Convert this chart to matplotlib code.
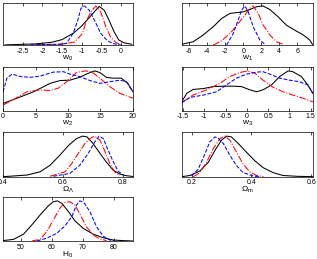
import numpy as np
import matplotlib
matplotlib.use('Agg')
import matplotlib.pyplot as plt

plt.rcParams['font.family'] = ['Liberation Sans', 'DejaVu Sans']
plt.rcParams['mathtext.fontset'] = 'custom'
plt.rcParams['mathtext.rm'] = 'Liberation Sans'
plt.rcParams['mathtext.it'] = 'Liberation Sans'

# marginalised posteriors (normalised to peak = 1)
# each panel: (x, y) for black solid, red dash-dot, blue dashed

w0_k_x = [-2.95, -2.18, -1.77, -1.5, -1.22, -1.02, -0.83, -0.68, -0.56, -0.43, -0.31, -0.18, -0.06, 0.07, 0.27]
w0_k_y = [0.005, 0.03, 0.07, 0.14, 0.3, 0.47, 0.68, 0.85, 0.99, 0.89, 0.64, 0.34, 0.13, 0.06, 0.02]
w0_r_x = [-2.18, -1.52, -1.18, -0.98, -0.89, -0.77, -0.64, -0.52, -0.39, -0.27, -0.14, -0.02]
w0_r_y = [0.01, 0.02, 0.08, 0.3, 0.6, 0.85, 1.0, 0.85, 0.47, 0.21, 0.07, 0.01]
w0_b_x = [-2.3, -1.6, -1.39, -1.22, -1.1, -1.02, -0.93, -0.81, -0.68, -0.52, -0.35, -0.18, 0.0]
w0_b_y = [0.01, 0.02, 0.04, 0.3, 0.64, 0.94, 1.0, 0.89, 0.64, 0.3, 0.11, 0.03, 0.0]

w1_k_x = [-6.85, -5.56, -4.44, -3.33, -2.4, -1.48, -0.74, 0.0, 0.74, 1.48, 2.2, 2.96, 3.9, 4.8, 5.74, 6.67, 7.4, 7.7]
w1_k_y = [0.02, 0.085, 0.26, 0.47, 0.68, 0.81, 0.83, 0.85, 0.91, 0.98, 1.0, 0.91, 0.72, 0.51, 0.38, 0.26, 0.13, 0.02]
w1_r_x = [-3.33, -2.4, -1.3, -0.56, 0.19, 0.74, 1.11, 1.67, 2.22, 2.96, 3.7, 4.44]
w1_r_y = [0.0, 0.11, 0.34, 0.55, 0.77, 0.94, 1.0, 0.81, 0.51, 0.26, 0.085, 0.02]
w1_b_x = [-1.85, -1.1, -0.56, -0.19, 0.19, 0.56, 1.11, 1.85, 2.4]
w1_b_y = [0.0, 0.3, 0.64, 0.89, 1.0, 0.85, 0.47, 0.13, 0.02]

w2_k_x = [0, 2.14, 4.7, 7.24, 8.78, 10.3, 11.8, 13.1, 14.1, 14.9, 15.9, 16.9, 18.2, 19.2, 20]
w2_k_y = [0.18, 0.31, 0.47, 0.68, 0.75, 0.76, 0.83, 0.93, 0.99, 0.95, 0.83, 0.81, 0.81, 0.68, 0.47]
w2_r_x = [0, 1.63, 3.67, 5.7, 7.24, 8.5, 9.8, 11.3, 12.6, 13.6, 14.9, 16.4, 18, 20]
w2_r_y = [0.14, 0.28, 0.47, 0.52, 0.5, 0.56, 0.72, 0.95, 0.99, 0.97, 0.81, 0.6, 0.43, 0.31]
w2_b_x = [0, 0.6, 1.4, 2.65, 4.2, 5.7, 7.75, 9.3, 10.3, 11.8, 13.4, 14.9, 16.4, 18, 19, 20]
w2_b_y = [0.47, 0.81, 0.91, 0.85, 0.83, 0.86, 0.96, 0.97, 0.91, 0.85, 0.75, 0.68, 0.72, 0.76, 0.72, 0.47]

w3_k_x = [-1.53, -1.41, -1.26, -1.02, -0.79, -0.55, -0.32, -0.13, 0.07, 0.23, 0.38, 0.58, 0.77, 0.97, 1.08, 1.28, 1.43, 1.55]
w3_k_y = [0.22, 0.43, 0.53, 0.55, 0.6, 0.61, 0.61, 0.6, 0.52, 0.47, 0.52, 0.64, 0.85, 0.99, 0.97, 0.85, 0.64, 0.43]
w3_r_x = [-1.53, -1.26, -0.94, -0.63, -0.4, -0.16, 0.01, 0.19, 0.38, 0.62, 0.85, 1.08, 1.32, 1.55]
w3_r_y = [0.2, 0.39, 0.52, 0.68, 0.85, 0.95, 0.99, 0.93, 0.76, 0.58, 0.47, 0.39, 0.31, 0.22]
w3_b_x = [-1.53, -1.33, -1.02, -0.71, -0.48, -0.24, -0.01, 0.23, 0.38, 0.54, 0.77, 1.0, 1.24, 1.43, 1.55]
w3_b_y = [0.2, 0.33, 0.39, 0.47, 0.64, 0.81, 0.91, 0.96, 0.97, 0.91, 0.81, 0.76, 0.72, 0.64, 0.43]

ol_k_x = [0.4, 0.48, 0.524, 0.557, 0.59, 0.618, 0.645, 0.665, 0.68, 0.7, 0.723, 0.745, 0.767, 0.789, 0.81, 0.833]
ol_k_y = [0.0, 0.04, 0.12, 0.28, 0.53, 0.76, 0.93, 0.99, 0.97, 0.81, 0.57, 0.35, 0.16, 0.065, 0.025, 0.005]
ol_r_x = [0.557, 0.607, 0.629, 0.651, 0.673, 0.69, 0.706, 0.723, 0.74, 0.756, 0.772, 0.789]
ol_r_y = [0.01, 0.12, 0.32, 0.57, 0.81, 0.93, 0.99, 0.89, 0.61, 0.32, 0.12, 0.025]
ol_b_x = [0.568, 0.623, 0.656, 0.684, 0.706, 0.72, 0.734, 0.75, 0.767, 0.783, 0.8]
ol_b_y = [0.01, 0.08, 0.28, 0.57, 0.85, 0.99, 0.93, 0.65, 0.37, 0.14, 0.04]

om_k_x = [0.167, 0.195, 0.228, 0.256, 0.278, 0.3, 0.317, 0.333, 0.356, 0.383, 0.411, 0.439, 0.472, 0.505, 0.55, 0.605]
om_k_y = [0.0, 0.03, 0.14, 0.35, 0.64, 0.89, 0.99, 0.97, 0.81, 0.6, 0.39, 0.22, 0.1, 0.03, 0.01, 0.0]
om_r_x = [0.206, 0.228, 0.25, 0.272, 0.295, 0.311, 0.328, 0.35, 0.372, 0.394, 0.417, 0.44]
om_r_y = [0.0, 0.1, 0.35, 0.68, 0.93, 0.99, 0.89, 0.6, 0.31, 0.12, 0.03, 0.0]
om_b_x = [0.2, 0.222, 0.245, 0.261, 0.278, 0.289, 0.306, 0.328, 0.35, 0.372, 0.405, 0.427]
om_b_y = [0.02, 0.18, 0.56, 0.85, 0.97, 0.94, 0.81, 0.52, 0.27, 0.1, 0.02, 0.0]

h0_k_x = [44.3, 47.7, 50.9, 53.6, 56.2, 58.9, 60.5, 61.8, 63.2, 65.3, 67.4, 70.1, 73.3, 76.5, 79.7, 82.9, 86.1]
h0_k_y = [0.01, 0.04, 0.17, 0.4, 0.64, 0.87, 0.97, 0.99, 0.93, 0.73, 0.5, 0.31, 0.17, 0.08, 0.025, 0.01, 0.0]
h0_r_x = [53.6, 56.2, 58.4, 60.5, 62.6, 64.2, 65.8, 67.4, 69.0, 71.1, 73.3, 75.4, 77.6]
h0_r_y = [0.0, 0.04, 0.23, 0.52, 0.81, 0.95, 0.97, 0.89, 0.67, 0.35, 0.15, 0.05, 0.01]
h0_b_x = [55.2, 58.4, 61.6, 64.2, 66.4, 67.97, 69.0, 70.3, 72.2, 74.4, 76.5, 78.6, 80.2]
h0_b_y = [0.0, 0.07, 0.19, 0.37, 0.6, 0.89, 0.99, 0.95, 0.73, 0.35, 0.12, 0.025, 0.0]

labels = ['w$_0$', 'w$_1$', 'w$_2$', 'w$_3$', r'$\Omega_\Lambda$', r'$\Omega_m$', 'H$_0$']
xlims = [(-3, 0.3), (-6.85, 7.75), (0, 20), (-1.53, 1.55), (0.4, 0.833), (0.167, 0.605), (44.3, 86.1)]
xticks = [[-2.5, -2, -1.5, -1, -0.5, 0], [-6, -4, -2, 0, 2, 4, 6], [0, 5, 10, 15, 20],
          [-1.5, -1, -0.5, 0, 0.5, 1, 1.5], [0.4, 0.6, 0.8], [0.2, 0.4, 0.6], [50, 60, 70, 80]]
curves = [
    [(w0_k_x, w0_k_y), (w0_r_x, w0_r_y), (w0_b_x, w0_b_y)],
    [(w1_k_x, w1_k_y), (w1_r_x, w1_r_y), (w1_b_x, w1_b_y)],
    [(w2_k_x, w2_k_y), (w2_r_x, w2_r_y), (w2_b_x, w2_b_y)],
    [(w3_k_x, w3_k_y), (w3_r_x, w3_r_y), (w3_b_x, w3_b_y)],
    [(ol_k_x, ol_k_y), (ol_r_x, ol_r_y), (ol_b_x, ol_b_y)],
    [(om_k_x, om_k_y), (om_r_x, om_r_y), (om_b_x, om_b_y)],
    [(h0_k_x, h0_k_y), (h0_r_x, h0_r_y), (h0_b_x, h0_b_y)],
]

# axes boxes in figure fractions [left, bottom, width, height]
col_l = [0.0095, 0.573]
col_w = [0.41, 0.414]
rows = [(0.826, 0.163), (0.5726, 0.1676), (0.3178, 0.171), (0.0695, 0.169)]

fig = plt.figure(figsize=(3.17, 2.59), dpi=100)
styles = [('k', '-'), ('r', '-.'), ('b', '--')]
for i in range(7):
    r, c = divmod(i, 2)
    ax = fig.add_axes([col_l[c], rows[r][0], col_w[c], rows[r][1]])
    for (x, y), (col, ls) in zip(curves[i], styles):
        ax.plot(x, y, color=col, ls=ls, lw=0.75)
    ax.set_xlim(*xlims[i])
    ax.set_ylim(0, 1.08)
    ax.set_xticks(xticks[i])
    ax.set_xticklabels([('%g' % t) for t in xticks[i]])
    ax.set_yticks([])
    ax.tick_params(axis='x', direction='in', top=True, length=2, width=0.5, labelsize=5, pad=2)
    ax.set_xlabel(labels[i], fontsize=6, labelpad=-1)
    for s in ax.spines.values():
        s.set_linewidth(0.5)

fig.savefig('out.png', dpi=100)
